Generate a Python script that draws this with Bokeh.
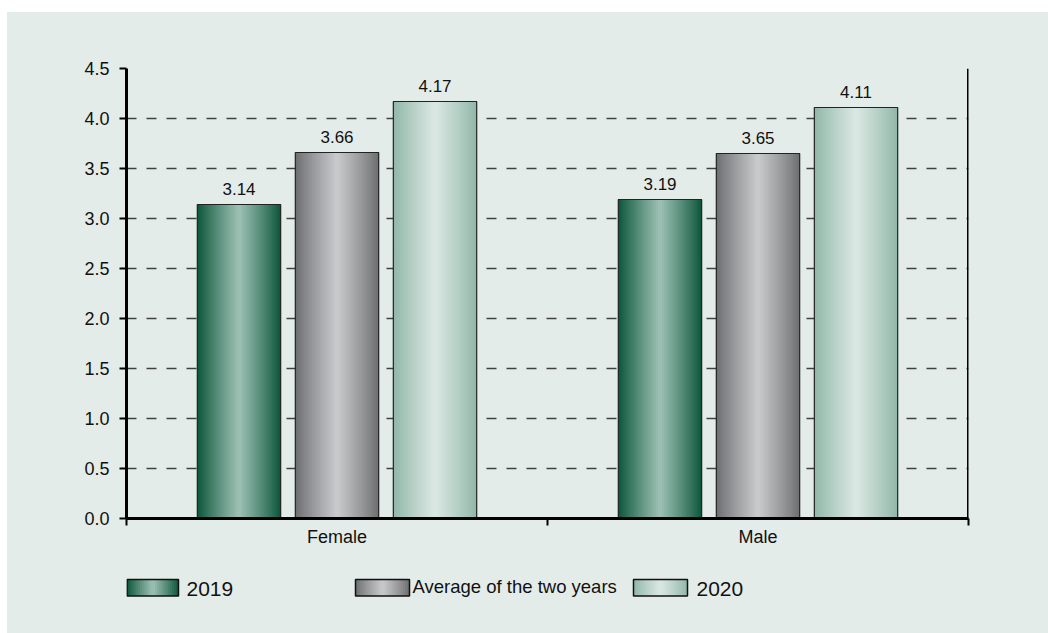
import numpy as np
from bokeh.plotting import figure
from bokeh.models import FixedTicker, Span, Range1d, Spacer
from bokeh.layouts import column, row
from bokeh.embed import file_html
from bokeh.resources import INLINE
from bokeh.core.properties import value

# ---------------- data ----------------
categories = ["Female", "Male"]
series = ["2019", "Average of the two years", "2020"]
values_2019 = [3.14, 3.19]
values_avg = [3.66, 3.65]
values_2020 = [4.17, 4.11]
y_ticks = [0.0, 0.5, 1.0, 1.5, 2.0, 2.5, 3.0, 3.5, 4.0, 4.5]
y_tick_labels = ["0.0", "0.5", "1.0", "1.5", "2.0", "2.5", "3.0", "3.5", "4.0", "4.5"]

# ---------------- style ----------------
BG = "#e4ece9"
FONT = "Liberation Sans"
GRADS = [((9, 84, 57), (158, 193, 181)),
         ((108, 109, 111), (202, 203, 205)),
         ((143, 182, 168), (219, 232, 227))]
OFFSETS = [-0.2328, 0.0, 0.2328]
BAR_W = 0.198
N_STRIPES = 40
FIG_W = 1041
BORDER_L, BORDER_R = 119, 80


def mix(c1, c2, t):
    return "#%02x%02x%02x" % tuple(int(round(a + (b - a) * t)) for a, b in zip(c1, c2))


def stripe_quads(centers, tops, bottoms, width, edge, centre, n=N_STRIPES):
    L, R, T, B, C = [], [], [], [], []
    sw = width / n
    for xc, top, bot in zip(centers, tops, bottoms):
        x0 = xc - width / 2
        for k in range(n):
            u = (k + 0.5) / n
            t = (1 - abs(2 * u - 1)) ** 0.9
            l = x0 + k * sw
            r = min(l + sw * 1.7, xc + width / 2)
            L.append(l); R.append(r); T.append(top); B.append(bot)
            C.append(mix(edge, centre, t))
    return dict(left=L, right=R, top=T, bottom=B, fill_color=C)


# ---------------- main figure ----------------
p = figure(width=FIG_W, height=548, x_range=Range1d(0, 2), y_range=Range1d(0, 4.5),
           min_border_left=BORDER_L, min_border_right=BORDER_R, min_border_top=56, min_border_bottom=42,
           toolbar_location=None, output_backend="svg",
           background_fill_color=BG, border_fill_color=BG, outline_line_color=None)

cat_x = [i + 0.5 for i, _ in enumerate(categories)]
all_vals = [values_2019, values_avg, values_2020]

for s, vals in enumerate(all_vals):
    xs = [c + OFFSETS[s] for c in cat_x]
    q = stripe_quads(xs, vals, [0] * len(vals), BAR_W, *GRADS[s])
    p.quad(left=q["left"], right=q["right"], top=q["top"], bottom=q["bottom"],
           fill_color=q["fill_color"], line_color=None)
    p.quad(left=[x - BAR_W / 2 for x in xs], right=[x + BAR_W / 2 for x in xs],
           top=vals, bottom=[0] * len(vals), fill_color=None,
           line_color="#222222", line_width=1.2)
    p.text(x=xs, y=vals, text=["%.2f" % v for v in vals],
           text_align="center", text_baseline="alphabetic", y_offset=-16,
           text_font=value(FONT), text_font_size="17px", text_color="#111111")

# y axis
p.yaxis.ticker = FixedTicker(ticks=y_ticks)
p.yaxis.major_label_overrides = {t: l for t, l in zip(y_ticks, y_tick_labels)}
p.yaxis.major_tick_out = 7
p.yaxis.major_tick_in = 0
p.yaxis.major_tick_line_width = 2
p.yaxis.axis_line_width = 3
p.yaxis.major_label_standoff = 10
p.yaxis.major_label_text_font = FONT
p.yaxis.major_label_text_font_size = "18px"
p.yaxis.major_label_text_color = "#111111"
p.yaxis.minor_tick_line_color = None

# x axis: labels at category centres, tick marks at category boundaries
p.xaxis.ticker = FixedTicker(ticks=cat_x, minor_ticks=[float(i) for i in range(len(categories) + 1)])
p.xaxis.major_label_overrides = {x: c for x, c in zip(cat_x, categories)}
p.xaxis.major_tick_out = 0
p.xaxis.major_tick_in = 0
p.xaxis.minor_tick_out = 7
p.xaxis.minor_tick_in = 0
p.xaxis.minor_tick_line_width = 2
p.xaxis.minor_tick_line_color = "black"
p.xaxis.axis_line_width = 3
p.xaxis.major_label_standoff = 1
p.xaxis.major_label_text_font = FONT
p.xaxis.major_label_text_font_size = "18px"
p.xaxis.major_label_text_color = "#111111"

p.xgrid.visible = False
p.ygrid.grid_line_color = "#404040"
p.ygrid.grid_line_dash = "10 10"
p.ygrid.grid_line_width = 1.3

p.add_layout(Span(location=2, dimension="height", line_color="black", line_width=3))

# ---------------- legend strip (page-pixel coordinates) ----------------
lg = figure(width=FIG_W, height=73, x_range=Range1d(126, 968), y_range=Range1d(633, 560),
            min_border_left=BORDER_L, min_border_right=BORDER_R, min_border_top=0, min_border_bottom=0,
            toolbar_location=None, output_backend="svg",
            x_axis_location=None, y_axis_location=None,
            background_fill_color=BG, border_fill_color=BG, outline_line_color=None)
lg.grid.visible = False

sw_left = [126.5, 355, 633]
sw_right = [178, 409, 687]
sw_top, sw_bot = 579, 595.5
txt_x = [186, 412, 696]
txt_y = [588, 585.5, 588]
txt_size = ["21px", "18.5px", "21px"]
for s, name in enumerate(series):
    xc = (sw_left[s] + sw_right[s]) / 2
    q = stripe_quads([xc], [sw_top], [sw_bot], sw_right[s] - sw_left[s], *GRADS[s], n=24)
    lg.quad(left=q["left"], right=q["right"], top=q["top"], bottom=q["bottom"],
            fill_color=q["fill_color"], line_color=None)
    lg.quad(left=[sw_left[s]], right=[sw_right[s]], top=[sw_top], bottom=[sw_bot],
            fill_color=None, line_color="#111111", line_width=1.5)
    lg.text(x=[txt_x[s]], y=[txt_y[s]], text=[name], text_align="left", text_baseline="middle",
            text_font=value(FONT), text_font_size=txt_size[s], text_color="#111111")

panel = column(p, lg, styles={"background-color": BG})
layout = row(Spacer(width=7, height=633),
             column(Spacer(width=FIG_W, height=12), panel))

open("out.html", "w").write(file_html(layout, INLINE))
